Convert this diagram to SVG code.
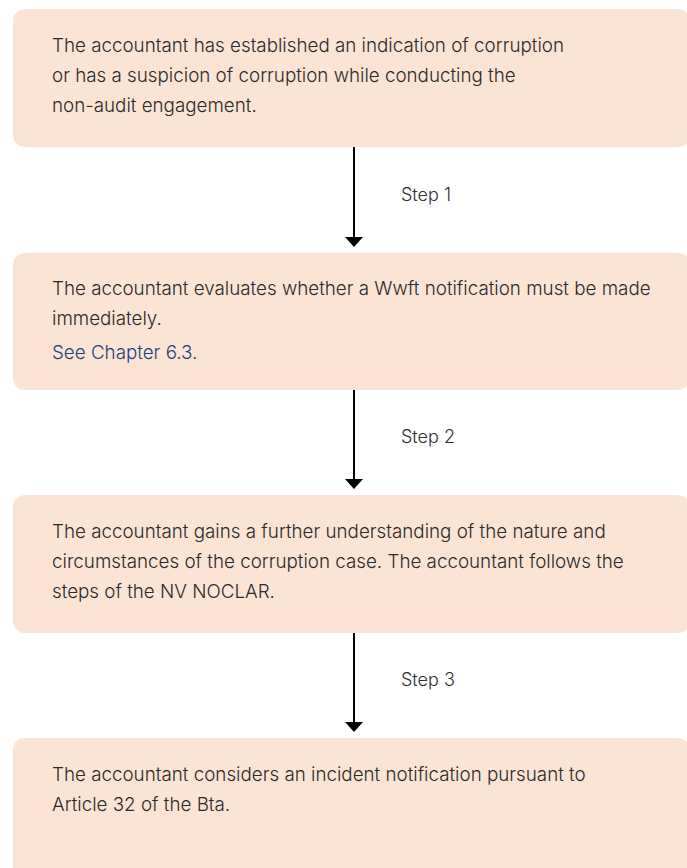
<svg xmlns="http://www.w3.org/2000/svg" width="687" height="868" viewBox="0 0 687 868">
  <defs>
    <style>
      .box { fill: #FCE4D4; }
      .txt { font-family: Inter, "Noto Sans", "Liberation Sans", sans-serif; font-size: 18.8px; font-weight: 300; fill: #2a2a2a; }
      .link { fill: #1d3f7c; }
      .step { font-family: Inter, "Noto Sans", "Liberation Sans", sans-serif; font-size: 18px; font-weight: 300; fill: #2f2f2f; }
      .conn { stroke: #000; stroke-width: 2; fill: none; }
    </style>
    <!-- solid triangular head, tip pointing along the line direction -->
    <marker id="arrowhead" markerWidth="10" markerHeight="18" refX="0" refY="9" orient="auto" markerUnits="userSpaceOnUse" viewBox="0 0 10 18">
      <path d="M0,0 L10,9 L0,18 Z" fill="#000"/>
    </marker>
  </defs>
  <rect width="687" height="868" fill="#fff"/>

  <g id="node-indication">
    <rect class="box" x="13" y="9" width="677" height="138" rx="12"/>
    <text class="txt" x="52" y="52">The accountant has established an indication of corruption</text>
    <text class="txt" x="52" y="82">or has a suspicion of corruption while conducting the</text>
    <text class="txt" x="52" y="112">non-audit engagement.</text>
  </g>

  <g id="node-wwft">
    <rect class="box" x="13" y="253" width="677" height="137" rx="12"/>
    <text class="txt" x="52" y="295">The accountant evaluates whether a Wwft notification must be made</text>
    <text class="txt" x="52" y="325">immediately.</text>
    <text class="txt link" x="52" y="359">See Chapter 6.3.</text>
  </g>

  <g id="node-noclar">
    <rect class="box" x="13" y="495" width="677" height="138" rx="12"/>
    <text class="txt" x="52" y="538">The accountant gains a further understanding of the nature and</text>
    <text class="txt" x="52" y="568">circumstances of the corruption case. The accountant follows the</text>
    <text class="txt" x="52" y="598">steps of the NV NOCLAR.</text>
  </g>

  <g id="node-bta">
    <rect class="box" x="13" y="738" width="677" height="140" rx="12"/>
    <text class="txt" x="52" y="781">The accountant considers an incident notification pursuant to</text>
    <text class="txt" x="52" y="811">Article 32 of the Bta.</text>
  </g>

  <g id="connectors">
    <line class="conn" x1="354" y1="147" x2="354" y2="237" marker-end="url(#arrowhead)"/>
    <text class="step" x="401" y="201">Step 1</text>
    <line class="conn" x1="354" y1="390" x2="354" y2="479" marker-end="url(#arrowhead)"/>
    <text class="step" x="401" y="443">Step 2</text>
    <line class="conn" x1="354" y1="633" x2="354" y2="722" marker-end="url(#arrowhead)"/>
    <text class="step" x="401" y="686">Step 3</text>
  </g>
</svg>
